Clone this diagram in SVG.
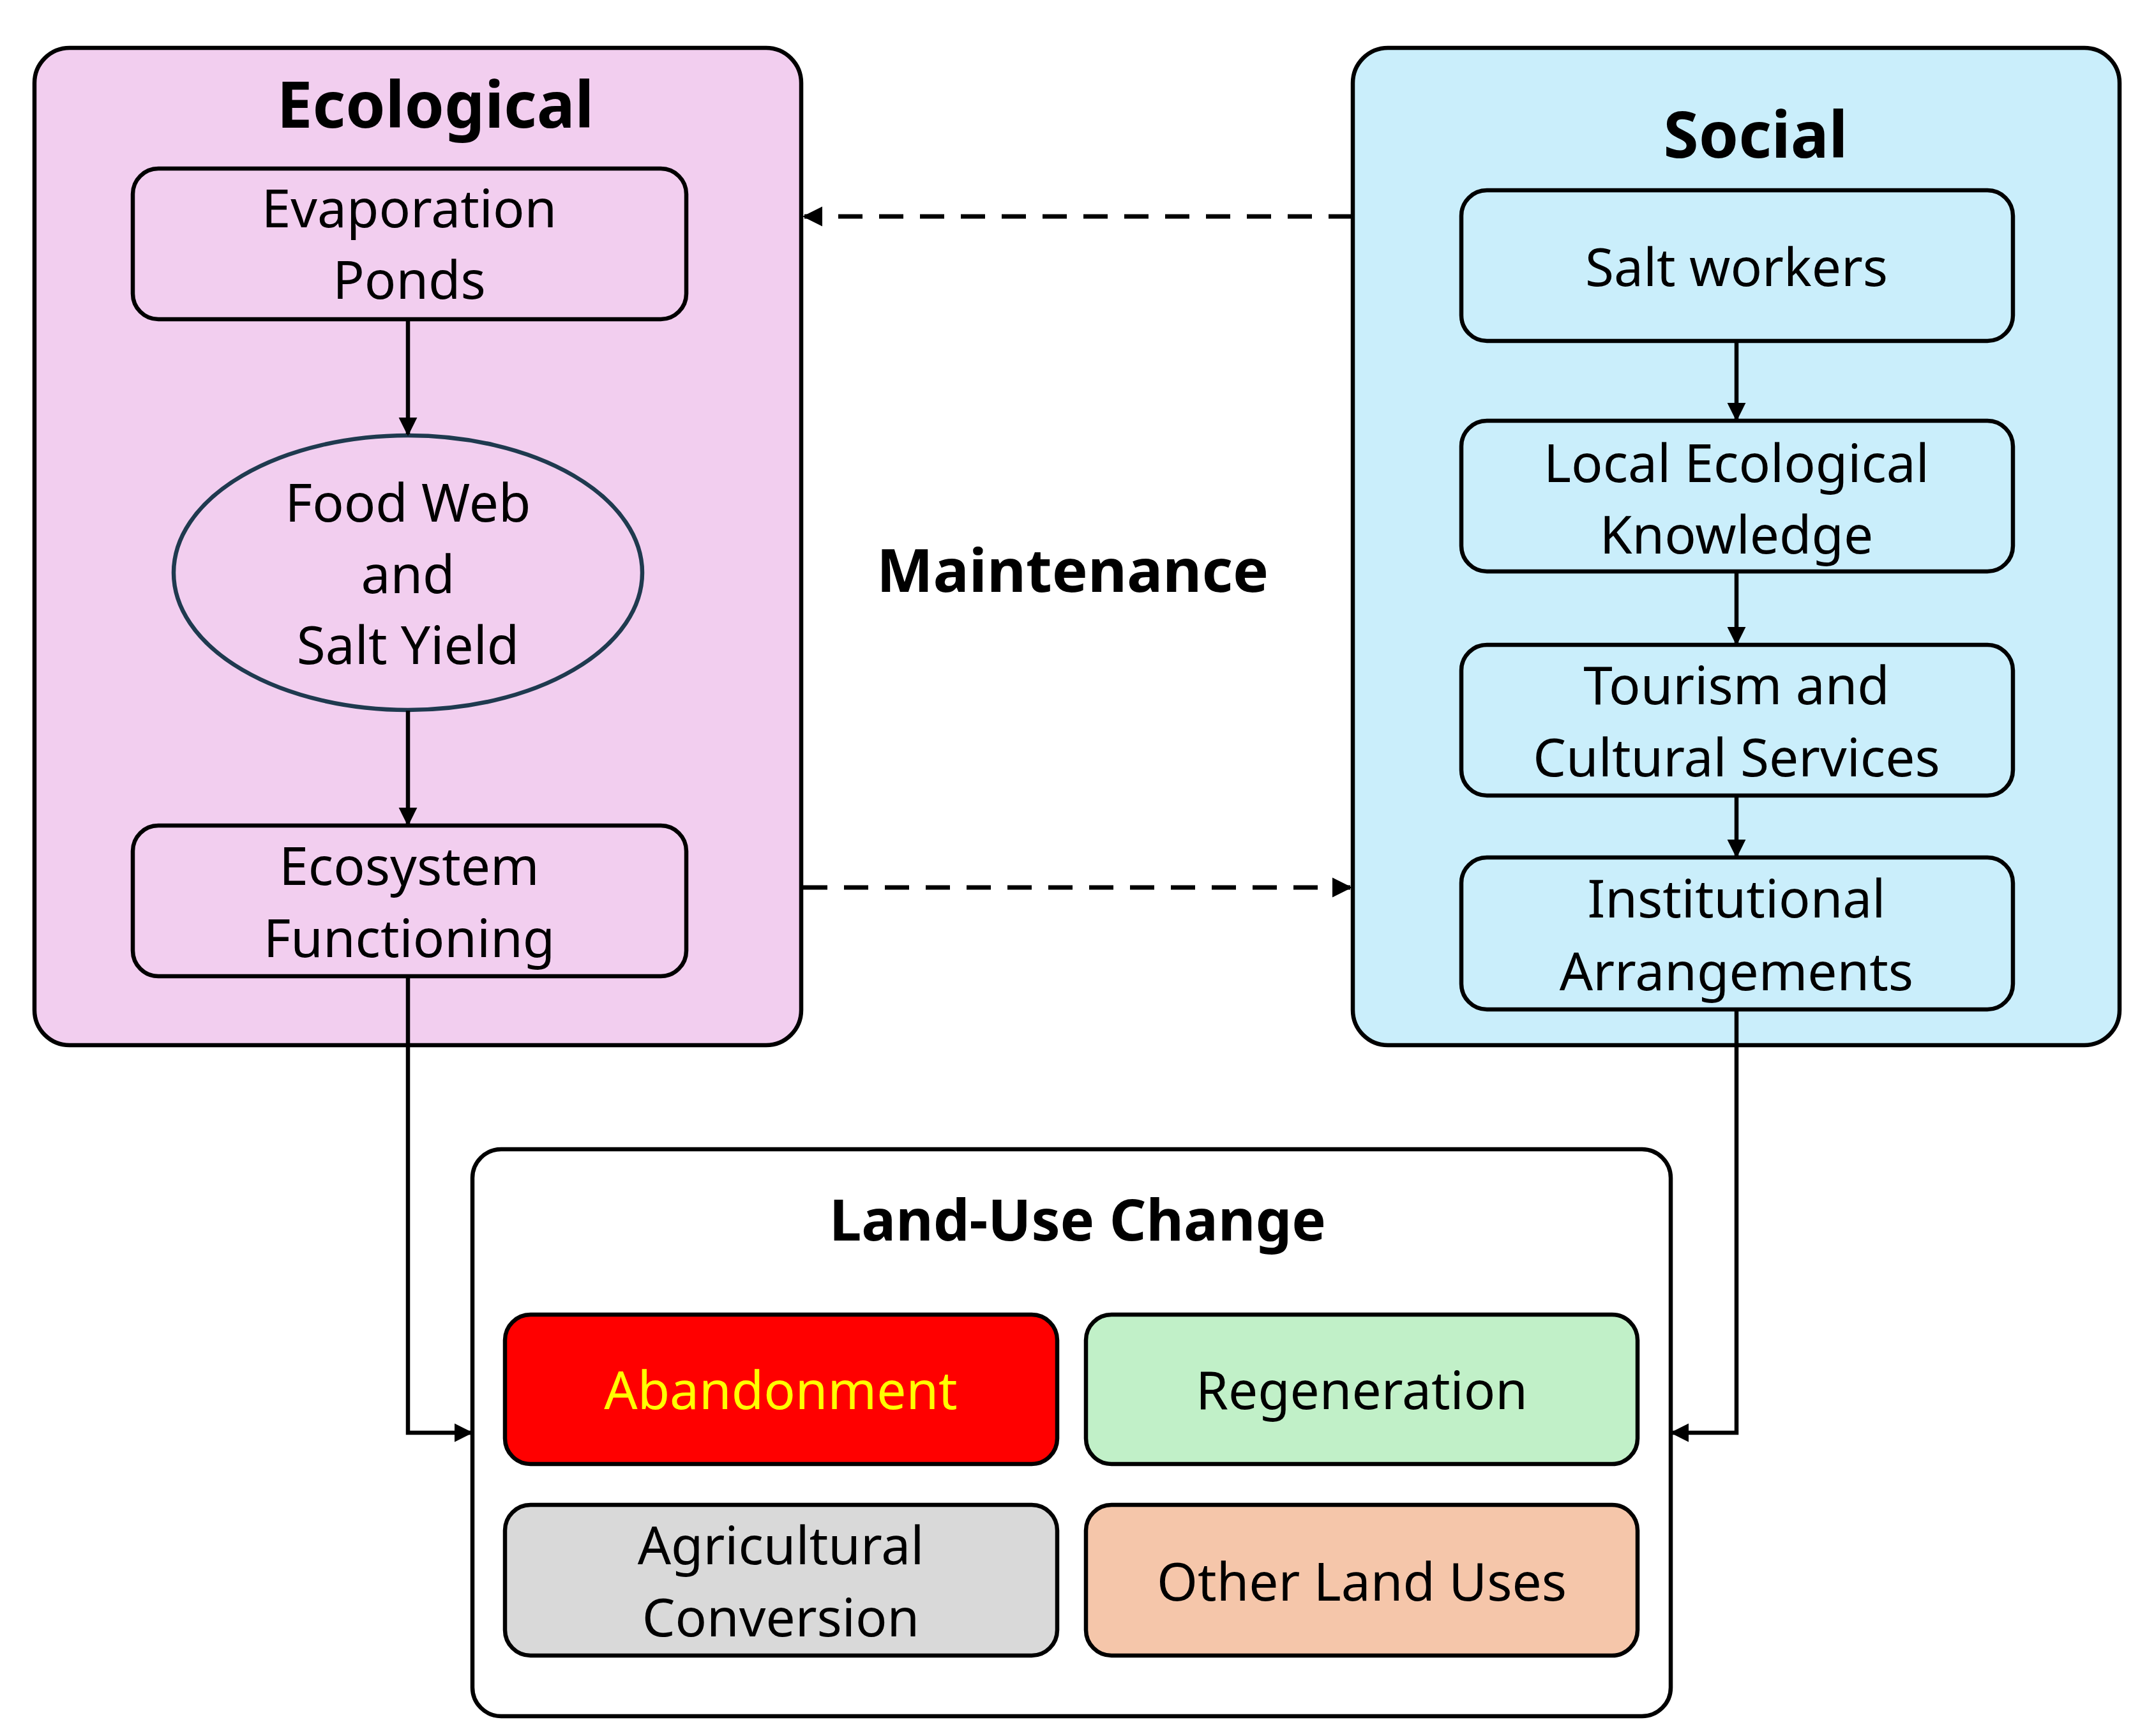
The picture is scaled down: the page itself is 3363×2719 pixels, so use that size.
<svg xmlns="http://www.w3.org/2000/svg" width="3363" height="2719" viewBox="0 0 3363 2719">
<style>
text{font-family:"Noto Sans","Open Sans",sans-serif;text-anchor:middle}
.t{font-size:82px;fill:#000}
.h{font-size:100px;font-weight:bold}
.b{stroke:#000;stroke-width:6.5}
.c{fill:none;stroke:#000;stroke-width:6.5}
.d{fill:none;stroke:#000;stroke-width:7;stroke-dasharray:38 26}
</style>
<defs>
<marker id="a" viewBox="0 0 10 10" refX="9" refY="5" markerWidth="4.5" markerHeight="4.5" orient="auto" markerUnits="strokeWidth"><path d="M0,0L10,5L0,10z" fill="#000"/></marker>
</defs>
<rect width="3363" height="2719" fill="#fff"/>
<g id="ecological"><rect x="54" y="75" width="1201" height="1562" rx="55" fill="#F2CEEF" class="b"/><text x="682" y="200" class="h">Ecological</text></g>
<g id="evaporation"><rect x="208" y="264" width="867" height="236" rx="40" fill="#F2CEEF" class="b"/><text x="641" y="356" class="t">Evaporation</text><text x="641" y="468" class="t">Ponds</text></g>
<g id="foodweb"><ellipse cx="639" cy="897" rx="367" ry="215" fill="#F2CEEF" stroke="#1F3A4F" stroke-width="6.5"/><text x="639" y="817" class="t">Food Web</text><text x="639" y="929" class="t">and</text><text x="639" y="1040" class="t">Salt Yield</text></g>
<g id="ecosystem"><rect x="208" y="1293" width="867" height="236" rx="40" fill="#F2CEEF" class="b"/><text x="641" y="1386" class="t">Ecosystem</text><text x="641" y="1499" class="t">Functioning</text></g>
<g id="social"><rect x="2119" y="75" width="1201" height="1562" rx="55" fill="#CAEEFB" class="b"/><text x="2750" y="247" class="h">Social</text></g>
<g id="saltworkers"><rect x="2289" y="298" width="864" height="236" rx="40" fill="#CAEEFB" class="b"/><text x="2720" y="448" class="t">Salt workers</text></g>
<g id="lek"><rect x="2289" y="659" width="864" height="236" rx="40" fill="#CAEEFB" class="b"/><text x="2720" y="755" class="t">Local Ecological</text><text x="2720" y="867" class="t">Knowledge</text></g>
<g id="tourism"><rect x="2289" y="1010" width="864" height="236" rx="40" fill="#CAEEFB" class="b"/><text x="2720" y="1103" class="t">Tourism and</text><text x="2720" y="1216" class="t">Cultural Services</text></g>
<g id="institutional"><rect x="2289" y="1343" width="864" height="238" rx="40" fill="#CAEEFB" class="b"/><text x="2720" y="1437" class="t">Institutional</text><text x="2720" y="1551" class="t">Arrangements</text></g>
<g id="maintenance"><text x="1680" y="927" style="font-size:94px;font-weight:bold">Maintenance</text></g>
<g id="landuse"><rect x="740" y="1800" width="1877" height="888" rx="45" fill="#fff" class="b"/><text x="1688" y="1943" style="font-size:90px;font-weight:bold">Land-Use Change</text></g>
<g id="abandonment"><rect x="791" y="2059" width="865" height="234" rx="40" fill="#FF0000" class="b"/><text x="1223" y="2207" class="t" style="fill:#FFFF00">Abandonment</text></g>
<g id="regeneration"><rect x="1701" y="2059" width="864" height="234" rx="40" fill="#C1F0C8" class="b"/><text x="2133" y="2207" class="t">Regeneration</text></g>
<g id="agricultural"><rect x="791" y="2357" width="865" height="236" rx="40" fill="#D9D9D9" class="b"/><text x="1223" y="2450" class="t">Agricultural</text><text x="1223" y="2563" class="t">Conversion</text></g>
<g id="otherlanduses"><rect x="1701" y="2357" width="864" height="236" rx="40" fill="#F5C6AA" class="b"/><text x="2133" y="2507" class="t">Other Land Uses</text></g>
<g id="connectors">
<path class="c" d="M639,500V680" marker-end="url(#a)"/>
<path class="c" d="M639,1113V1291" marker-end="url(#a)"/>
<path class="c" d="M2720,534V657" marker-end="url(#a)"/>
<path class="c" d="M2720,895V1008" marker-end="url(#a)"/>
<path class="c" d="M2720,1246V1341" marker-end="url(#a)"/>
<path class="c" d="M639,1529V2244H738" marker-end="url(#a)"/>
<path class="c" d="M2720,1581V2244H2619" marker-end="url(#a)"/>
<path class="d" d="M2119,339H1260" marker-end="url(#a)"/>
<path class="d" d="M1258,1390H2115" marker-end="url(#a)"/>
</g>
</svg>
